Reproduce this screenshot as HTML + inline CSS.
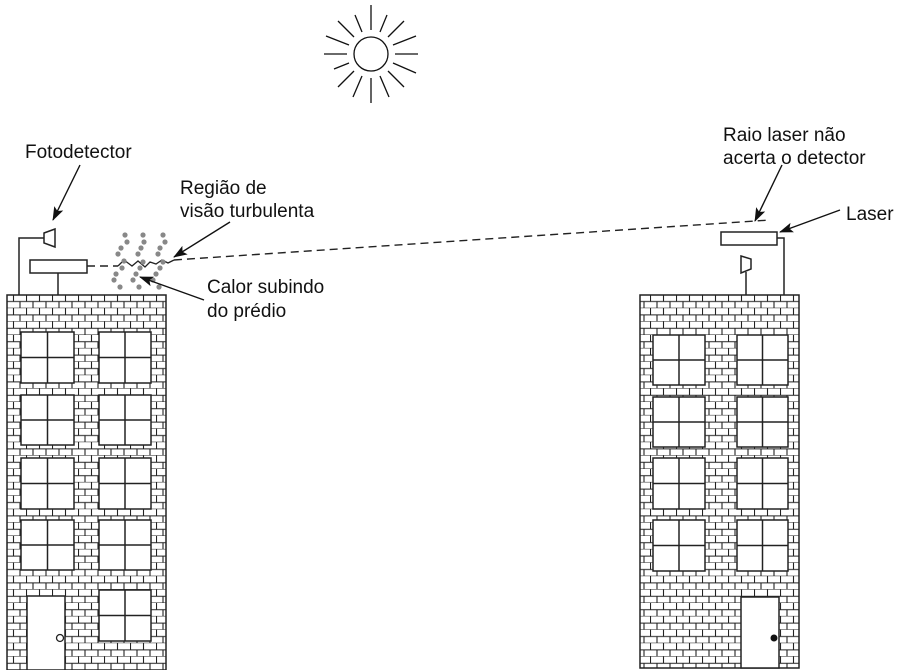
<!DOCTYPE html>
<html><head><meta charset="utf-8"><style>
html,body{margin:0;padding:0;background:#fff}
svg{display:block}
text{font-family:"Liberation Sans",Arial,sans-serif;font-size:19px;fill:#111}
</style></head><body>
<svg width="900" height="670" viewBox="0 0 900 670" xmlns="http://www.w3.org/2000/svg">
<defs>
<pattern id="brick" x="0" y="0" width="26" height="13.4" patternUnits="userSpaceOnUse">
<rect width="26" height="13.4" fill="#fff"/>
<line x1="0" y1="6.7" x2="26" y2="6.7" stroke="#222" stroke-width="1.1"/>
<line x1="0" y1="13.4" x2="26" y2="13.4" stroke="#222" stroke-width="1.1"/>
<line x1="0.5" y1="0" x2="0.5" y2="6.7" stroke="#222" stroke-width="1.1"/>
<line x1="13.5" y1="0" x2="13.5" y2="6.7" stroke="#222" stroke-width="1.1"/>
<line x1="7" y1="6.7" x2="7" y2="13.4" stroke="#222" stroke-width="1.1"/>
<line x1="20" y1="6.7" x2="20" y2="13.4" stroke="#222" stroke-width="1.1"/>
</pattern>
<marker id="ar" markerWidth="14" markerHeight="12" refX="13" refY="6" orient="auto" markerUnits="userSpaceOnUse">
<path d="M0,1 L14,6 L0,11 L3,6 Z" fill="#111"/>
</marker>
</defs>

<g stroke="#111" stroke-width="1.3" fill="none">
<circle cx="371" cy="54" r="17"/>
<line x1="371" y1="30" x2="371" y2="5"/>
<line x1="371" y1="78" x2="371" y2="103"/>
<line x1="347" y1="54" x2="324" y2="54"/>
<line x1="395" y1="54" x2="418" y2="54"/>
<line x1="354" y1="37" x2="338" y2="21"/>
<line x1="388" y1="37" x2="404" y2="21"/>
<line x1="354" y1="71" x2="338" y2="87"/>
<line x1="388" y1="71" x2="404" y2="87"/>
<line x1="362" y1="32" x2="355" y2="15"/>
<line x1="380" y1="32" x2="387" y2="15"/>
<line x1="362" y1="76" x2="353" y2="97"/>
<line x1="380" y1="76" x2="389" y2="97"/>
<line x1="349" y1="45" x2="326" y2="36"/>
<line x1="393" y1="45" x2="416" y2="36"/>
<line x1="349" y1="63" x2="334" y2="69"/>
<line x1="393" y1="63" x2="416" y2="73"/>
</g>

<rect x="7" y="295" width="159" height="375" fill="url(#brick)" stroke="#222" stroke-width="1.5"/>
<rect x="640" y="295" width="159" height="373" fill="url(#brick)" stroke="#222" stroke-width="1.5"/>
<g fill="#fff" stroke="#222" stroke-width="1.5">
<rect x="21" y="332" width="53" height="51"/><rect x="99" y="332" width="52" height="51"/>
<rect x="21" y="395" width="53" height="50"/><rect x="99" y="395" width="52" height="50"/>
<rect x="21" y="458" width="53" height="51"/><rect x="99" y="458" width="52" height="51"/>
<rect x="21" y="520" width="53" height="50"/><rect x="99" y="520" width="52" height="50"/>
<rect x="99" y="590" width="52" height="51"/>
<rect x="27" y="596" width="38" height="74"/>
<rect x="653" y="335" width="52" height="50"/><rect x="737" y="335" width="51" height="50"/>
<rect x="653" y="397" width="52" height="50"/><rect x="737" y="397" width="51" height="50"/>
<rect x="653" y="458" width="52" height="51"/><rect x="737" y="458" width="51" height="51"/>
<rect x="653" y="520" width="52" height="51"/><rect x="737" y="520" width="51" height="51"/>
<rect x="741" y="597" width="38" height="71"/>
</g>
<g stroke="#222" stroke-width="1.5">
<line x1="47.5" y1="332" x2="47.5" y2="383"/><line x1="21" y1="357.5" x2="74" y2="357.5"/>
<line x1="125" y1="332" x2="125" y2="383"/><line x1="99" y1="357.5" x2="151" y2="357.5"/>
<line x1="47.5" y1="395" x2="47.5" y2="445"/><line x1="21" y1="420" x2="74" y2="420"/>
<line x1="125" y1="395" x2="125" y2="445"/><line x1="99" y1="420" x2="151" y2="420"/>
<line x1="47.5" y1="458" x2="47.5" y2="509"/><line x1="21" y1="483.5" x2="74" y2="483.5"/>
<line x1="125" y1="458" x2="125" y2="509"/><line x1="99" y1="483.5" x2="151" y2="483.5"/>
<line x1="47.5" y1="520" x2="47.5" y2="570"/><line x1="21" y1="545" x2="74" y2="545"/>
<line x1="125" y1="520" x2="125" y2="570"/><line x1="99" y1="545" x2="151" y2="545"/>
<line x1="125" y1="590" x2="125" y2="641"/><line x1="99" y1="615.5" x2="151" y2="615.5"/>
<line x1="679" y1="335" x2="679" y2="385"/><line x1="653" y1="360" x2="705" y2="360"/>
<line x1="762.5" y1="335" x2="762.5" y2="385"/><line x1="737" y1="360" x2="788" y2="360"/>
<line x1="679" y1="397" x2="679" y2="447"/><line x1="653" y1="422" x2="705" y2="422"/>
<line x1="762.5" y1="397" x2="762.5" y2="447"/><line x1="737" y1="422" x2="788" y2="422"/>
<line x1="679" y1="458" x2="679" y2="509"/><line x1="653" y1="483.5" x2="705" y2="483.5"/>
<line x1="762.5" y1="458" x2="762.5" y2="509"/><line x1="737" y1="483.5" x2="788" y2="483.5"/>
<line x1="679" y1="520" x2="679" y2="571"/><line x1="653" y1="545.5" x2="705" y2="545.5"/>
<line x1="762.5" y1="520" x2="762.5" y2="571"/><line x1="737" y1="545.5" x2="788" y2="545.5"/>
</g>
<circle cx="60" cy="638" r="3.5" fill="#fff" stroke="#222" stroke-width="1.3"/>
<circle cx="774" cy="638" r="3.5" fill="#111"/>

<g stroke="#222" stroke-width="1.5" fill="#fff">
<polyline points="19,295 19,238 44,238" fill="none"/>
<polygon points="44,233 55,229 55,247 44,243"/>
<line x1="58" y1="273" x2="58" y2="295"/>
<rect x="30" y="260" width="57" height="13"/>
<polyline points="777,238 784,238 784,295" fill="none"/>
<rect x="721" y="232" width="56" height="13"/>
<polygon points="741,256 751,259 751,269 741,273"/>
<line x1="746" y1="272" x2="746" y2="295"/>
</g>

<g stroke="#222" stroke-width="1.4" fill="none" stroke-dasharray="8,5">
<path d="M87,266 L118,266"/>
<path d="M174,260 L770,220"/>
</g>
<path d="M118,266 L124,260 L132,266 L138,261 L145,267 L150,262 L156,264 L162,260 L168,263 L174,260" stroke="#222" stroke-width="1.3" fill="none"/>

<g fill="#888">
<circle cx="125" cy="235" r="2.6"/><circle cx="127" cy="242" r="2.6"/><circle cx="121" cy="248" r="2.6"/><circle cx="118" cy="254" r="2.6"/><circle cx="124" cy="261" r="2.6"/><circle cx="122" cy="268" r="2.6"/><circle cx="116" cy="274" r="2.6"/><circle cx="114" cy="280" r="2.6"/><circle cx="120" cy="287" r="2.6"/>
<circle cx="143" cy="235" r="2.6"/><circle cx="144" cy="242" r="2.6"/><circle cx="141" cy="248" r="2.6"/><circle cx="138" cy="254" r="2.6"/><circle cx="143" cy="262" r="2.6"/><circle cx="140" cy="268" r="2.6"/><circle cx="136" cy="274" r="2.6"/><circle cx="133" cy="280" r="2.6"/><circle cx="139" cy="287" r="2.6"/>
<circle cx="163" cy="235" r="2.6"/><circle cx="165" cy="242" r="2.6"/><circle cx="160" cy="248" r="2.6"/><circle cx="158" cy="254" r="2.6"/><circle cx="163" cy="262" r="2.6"/><circle cx="160" cy="268" r="2.6"/><circle cx="156" cy="274" r="2.6"/><circle cx="153" cy="280" r="2.6"/><circle cx="159" cy="287" r="2.6"/>
</g>

<g stroke="#111" stroke-width="1.4" marker-end="url(#ar)">
<line x1="80" y1="165" x2="53" y2="220"/>
<line x1="230" y1="222" x2="174" y2="257"/>
<line x1="204" y1="300" x2="140" y2="277"/>
<line x1="782" y1="165" x2="755" y2="221"/>
<line x1="840" y1="210" x2="780" y2="232"/>
</g>

<text x="25" y="158">Fotodetector</text>
<text x="180" y="194">Região de</text>
<text x="180" y="217">visão turbulenta</text>
<text x="207" y="293">Calor subindo</text>
<text x="207" y="317">do prédio</text>
<text x="723" y="141">Raio laser não</text>
<text x="723" y="164">acerta o detector</text>
<text x="846" y="220">Laser</text>
</svg>
</body></html>
